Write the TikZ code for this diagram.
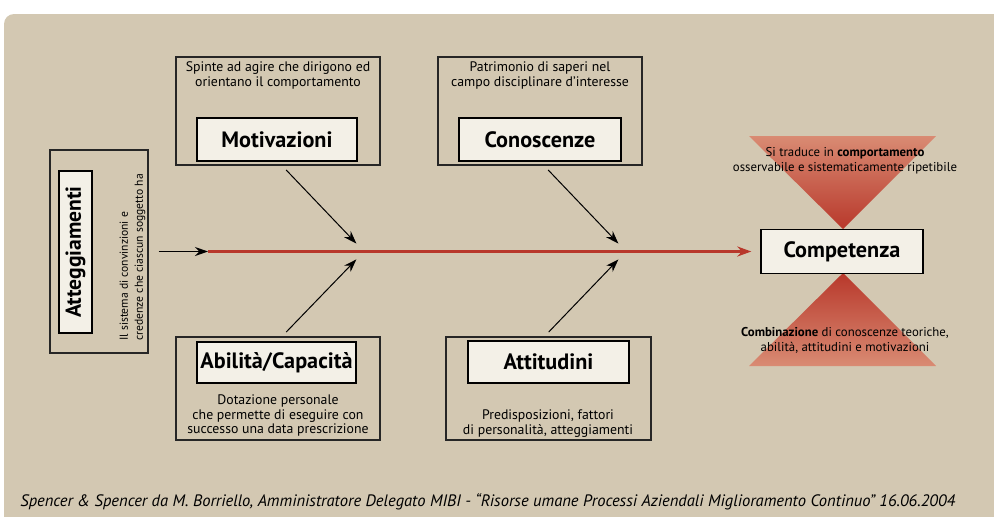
\documentclass[tikz,border=0pt]{standalone}
\usepackage{fontspec}
\setmainfont{PT Sans}
\usetikzlibrary{arrows.meta}
\definecolor{sand}{HTML}{D3C8B2}
\definecolor{paper}{HTML}{F3F0E7}
\definecolor{brick}{HTML}{B8382B}
\definecolor{salmon}{HTML}{D98B73}

\begin{document}
\begin{tikzpicture}[x={(0.5pt,0)},y={(0,-0.5pt)},
  outerbox/.style={draw=black!85,line width=0.6pt,inner sep=0pt},
  labelbox/.style={draw,fill=paper,line width=0.7pt,inner sep=0pt,font=\fontsize{11.1}{13}\selectfont\bfseries},
  desc/.style={align=center,inner sep=0pt,font=\fontsize{6.9}{7.4}\selectfont},
  note/.style={align=center,inner sep=0pt,font=\fontsize{6.4}{7.6}\selectfont},
  arr/.style={-{Stealth[length=6.5pt,width=4.5pt]},line width=0.5pt},
  spineline/.style={-{Stealth[length=7pt,width=5pt]},draw=brick,line width=1.8pt}]

    \useasboundingbox (0,0) rectangle (994,516);
    \fill[sand,rounded corners=5pt] (4,14) rectangle (1010,530);

    % atteggiamenti
    \node (atgbox) at (99,251.5) [outerbox,minimum width=49pt,minimum height=101.5pt] {};
    \node (atg) at (75.5,252) [labelbox,rotate=90,minimum width=81pt,minimum height=16.5pt,font=\fontsize{10.8}{13}\selectfont\bfseries] {Atteggiamenti};
    \node (atgtxt) at (132.5,341) [desc,rotate=90,anchor=west,align=left,font=\fontsize{5.8}{7.4}\selectfont] {Il sistema di convinzioni e\\credenze che ciascun soggetto ha};

    % motivazioni
    \node (motbox) at (278,111) [outerbox,minimum width=102pt,minimum height=54pt] {};
    \node (mot) at (277,139.5) [labelbox,minimum width=80pt,minimum height=21.5pt] {Motivazioni};
    \node (mottxt) at (278,75.5) [desc] {Spinte ad agire che dirigono ed\\orientano il comportamento};

    % conoscenze
    \node (conbox) at (540,111) [outerbox,minimum width=102pt,minimum height=54pt] {};
    \node (con) at (540,139.5) [labelbox,minimum width=81pt,minimum height=21.5pt] {Conoscenze};
    \node (contxt) at (540,75.5) [desc] {Patrimonio di saperi nel\\campo disciplinare d’interesse};

    % abilita
    \node (abibox) at (278,388.5) [outerbox,minimum width=102pt,minimum height=51.5pt] {};
    \node (abi) at (276.5,362.5) [labelbox,minimum width=79.5pt,minimum height=20.5pt] {Abilità/Capacità};
    \node (abitxt) at (278,415.5) [desc] {Dotazione personale\\che permette di eseguire con\\successo una data prescrizione};

    % attitudini
    \node (attbox) at (548.5,388.5) [outerbox,minimum width=102.5pt,minimum height=51.5pt] {};
    \node (att) at (548.5,362) [labelbox,minimum width=80.5pt,minimum height=21pt] {Attitudini};
    \node (atttxt) at (548,423.5) [desc] {Predisposizioni, fattori\\di personalità, atteggiamenti};

    % competenza
    \shade[top color=salmon,bottom color=brick] (749,136) -- (936,136) -- (843,229) -- cycle;
    \shade[top color=brick,bottom color=salmon] (843,273) -- (749,366) -- (936,366) -- cycle;
    \node (comp) at (842,251.5) [labelbox,minimum width=81pt,minimum height=22pt] {Competenza};
    \node (comptop) at (845,160.5) [note] {Si traduce in \textbf{comportamento}\\osservabile e sistematicamente ripetibile};
    \node (compbot) at (845,340) [note] {\textbf{Combinazione} di conoscenze teoriche,\\abilità, attitudini e motivazioni};

    \coordinate (spine) at (208,251.5);
    \coordinate (j1) at (364,251.5);
    \coordinate (j2) at (626,251.5);

    \draw[arr,shorten <=5pt] (atgbox.east) -- (spine);
    \draw[spineline,shorten >=4.5pt] (spine) -- (comp);
    \draw[arr,shorten <=3pt,shorten >=5.5pt] ([xshift=2pt]motbox.south) -- (j1);
    \draw[arr,shorten <=3pt,shorten >=5.5pt] ([xshift=2pt]abibox.north) -- (j1);
    \draw[arr,shorten <=3pt,shorten >=5.5pt] ([xshift=2pt]conbox.south) -- (j2);
    \draw[arr,shorten <=3pt,shorten >=5.5pt] ([xshift=-2pt]attbox.north) -- (j2);

    \node (src) at (20,502) [anchor=west,inner sep=0pt,font=\fontsize{8.28}{9}\selectfont\itshape] {Spencer \& Spencer da M. Borriello, Amministratore Delegato MIBI - “Risorse umane Processi Aziendali Miglioramento Continuo” 16.06.2004};

\end{tikzpicture}
\end{document}
